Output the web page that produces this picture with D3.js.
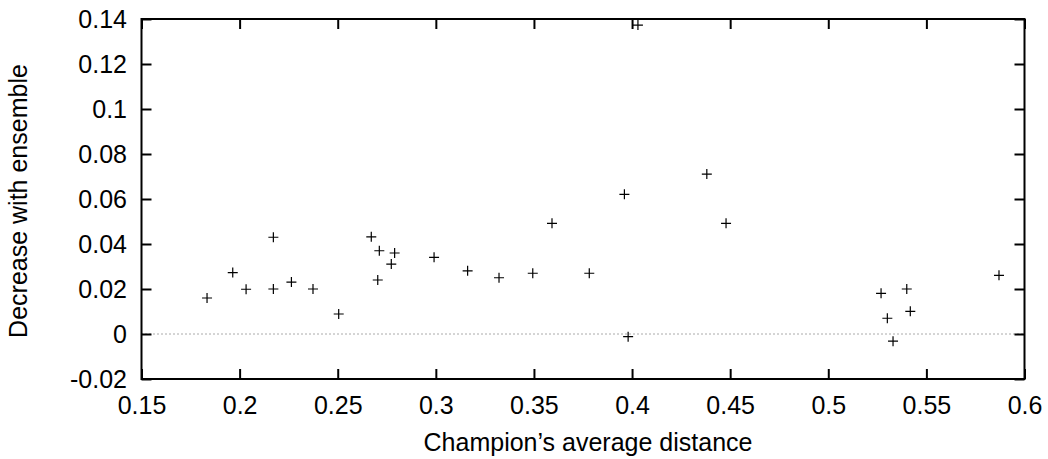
<!DOCTYPE html>
<html>
<head>
<meta charset="utf-8">
<script src="https://cdn.jsdelivr.net/npm/d3@7"></script>
<style>
  body { margin: 0; background: #fff; }
  text { font-family: "Liberation Sans", Arial, sans-serif; font-size: 25px; fill: #000; }
</style>
</head>
<body>
<script>
const width = 1048;
const height = 459;
const marginTop = 19;
const marginRight = 23.5;
const marginBottom = 80;
const marginLeft = 141.5;

// champion's average distance
const distance = [
  0.1834, 0.1965, 0.2033, 0.2172, 0.2172, 0.2264, 0.2374, 0.2505, 0.2671, 0.2712,
  0.2704, 0.279, 0.2773, 0.2991, 0.3162, 0.3322, 0.3494, 0.3592, 0.3782, 0.3961,
  0.398, 0.403, 0.4381, 0.4479, 0.5269, 0.54, 0.5301, 0.5418, 0.533, 0.587,
];
// decrease with ensemble
const decrease = [
  0.016, 0.0273, 0.0199, 0.043, 0.02, 0.0231, 0.02, 0.0089, 0.0432, 0.037,
  0.024, 0.036, 0.0311, 0.0341, 0.0281, 0.025, 0.027, 0.0492, 0.027, 0.0621,
  -0.0012, 0.1373, 0.0711, 0.0492, 0.0181, 0.02, 0.007, 0.0101, -0.0032, 0.0261,
];
const xTicks = [0.15, 0.2, 0.25, 0.3, 0.35, 0.4, 0.45, 0.5, 0.55, 0.6];
const yTicks = [-0.02, 0, 0.02, 0.04, 0.06, 0.08, 0.1, 0.12, 0.14];

const points = distance.map((d, i) => ({ x: d, y: decrease[i] }));

const x = d3.scaleLinear([0.15, 0.6], [marginLeft, width - marginRight]);
const y = d3.scaleLinear([-0.02, 0.14], [height - marginBottom, marginTop]);

const svg = d3
  .select("body")
  .append("svg")
  .attr("width", width)
  .attr("height", height);

// zero line
svg
  .append("line")
  .attr("x1", x(0.15))
  .attr("x2", x(0.6))
  .attr("y1", y(0))
  .attr("y2", y(0))
  .attr("stroke", "#555")
  .attr("stroke-width", 1)
  .attr("stroke-dasharray", "1,3");

// gnuplot style labels: plain hyphen for minus
const fmt = (d) => String(+d.toFixed(2));

// axes, ticks pointing inward, mirrored
const tick = 10;
svg
  .append("g")
  .attr("transform", `translate(0,${y(-0.02)})`)
  .call(d3.axisBottom(x).tickValues(xTicks).tickSize(-tick).tickPadding(17).tickFormat(fmt))
  .call((g) => g.select(".domain").remove());
svg
  .append("g")
  .attr("transform", `translate(0,${y(0.14)})`)
  .call(d3.axisTop(x).tickValues(xTicks).tickSize(-tick).tickFormat(""))
  .call((g) => g.select(".domain").remove());
svg
  .append("g")
  .attr("transform", `translate(${x(0.15)},0)`)
  .call(d3.axisLeft(y).tickValues(yTicks).tickSize(-tick).tickPadding(14.5).tickFormat(fmt))
  .call((g) => g.select(".domain").remove());
svg
  .append("g")
  .attr("transform", `translate(${x(0.6)},0)`)
  .call(d3.axisRight(y).tickValues(yTicks).tickSize(-tick).tickFormat(""))
  .call((g) => g.select(".domain").remove());

svg.selectAll(".tick line").attr("stroke", "#000").attr("stroke-width", 2);
svg.selectAll(".tick text").style("font-size", "25px").attr("fill", "#000");

// frame
svg
  .append("rect")
  .attr("x", x(0.15))
  .attr("y", y(0.14))
  .attr("width", x(0.6) - x(0.15))
  .attr("height", y(-0.02) - y(0.14))
  .attr("fill", "none")
  .attr("stroke", "#000")
  .attr("stroke-width", 2);

// plus markers
const s = 5;
svg
  .append("g")
  .attr("stroke", "#000")
  .attr("stroke-width", 1.2)
  .selectAll("path")
  .data(points)
  .join("path")
  .attr("d", (d) => {
    const px = x(d.x);
    const py = y(d.y);
    return `M${px - s},${py}H${px + s}M${px},${py - s}V${py + s}`;
  });

// labels
svg
  .append("text")
  .attr("x", 588)
  .attr("y", 451)
  .attr("text-anchor", "middle")
  .text("Champion’s average distance");

svg
  .append("text")
  .attr("transform", `translate(27,201) rotate(-90)`)
  .attr("text-anchor", "middle")
  .text("Decrease with ensemble");
</script>
</body>
</html>
